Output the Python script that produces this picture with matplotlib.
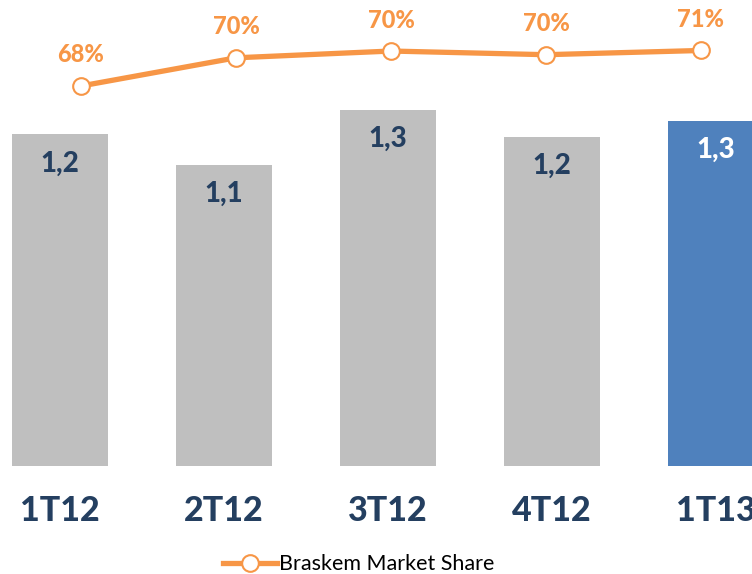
import numpy as np
import matplotlib.pyplot as plt
from matplotlib.lines import Line2D

# data
quarters = ["1T12", "2T12", "3T12", "4T12", "1T13"]
volume = [1.21, 1.10, 1.30, 1.20, 1.26]
share = [68.0, 70.0, 70.48, 70.22, 70.52]

gray = "#BFBFBF"
blue = "#4F81BD"
orange = "#F79646"
navy = "#243F60"
plt.rcParams['font.family'] = ['Lato', 'DejaVu Sans']

fig = plt.figure(figsize=(7.52, 5.74), dpi=100)

# bars
ax = fig.add_axes([0, 108/574, 1, 466/574])
x = np.arange(len(quarters))
colors = [gray]*4 + [blue]
ax.bar(x, volume, width=0.59, color=colors)
ax.set_xlim(-60/164, (752-60)/164)
ax.set_ylim(0, 466/274)
for i, v in enumerate(volume):
  c = "white" if i == 4 else navy
  ax.annotate(f"{v:.1f}".replace(".", ","), (i, v), xytext=(0, -29),
              textcoords="offset pixels", ha="center", va="center",
              fontsize=20, fontweight="black", color=c)
ax.set_xticks(x)
ax.set_xticklabels(quarters, fontsize=24.5, fontweight="black", color=navy)
ax.tick_params(length=0, pad=21)
ax.set_yticks([])
for s in ax.spines.values():
  s.set_visible(False)
ax.patch.set_alpha(0)

# market share line
lx = fig.add_axes([0, 0, 1, 1])
lx.set_xlim(-81/155, (752-81)/155)
k = 14.1
lx.set_ylim(68 - (574-86)/k, 68 + 86/k)
lx.plot(x, share, color=orange, lw=3.8, marker="o", markersize=12,
        markerfacecolor="white", markeredgecolor=orange, markeredgewidth=1.5)
for i, v in enumerate(share):
  lx.annotate(f"{v:.0f}%", (i, v), xytext=(0, 31), textcoords="offset pixels",
              ha="center", va="center", fontsize=17, fontweight="black", color=orange)
lx.axis("off")

h = Line2D([], [], color=orange, lw=3.8, marker="o", markersize=12,
           markerfacecolor="white", markeredgecolor=orange, markeredgewidth=1.5)
fig.legend([h], ["Braskem Market Share"], loc="center", bbox_to_anchor=(0.477, 0.017),
           frameon=False, fontsize=15.5, handlelength=2.5, handletextpad=0.1)

fig.savefig("out.png", dpi=100)
